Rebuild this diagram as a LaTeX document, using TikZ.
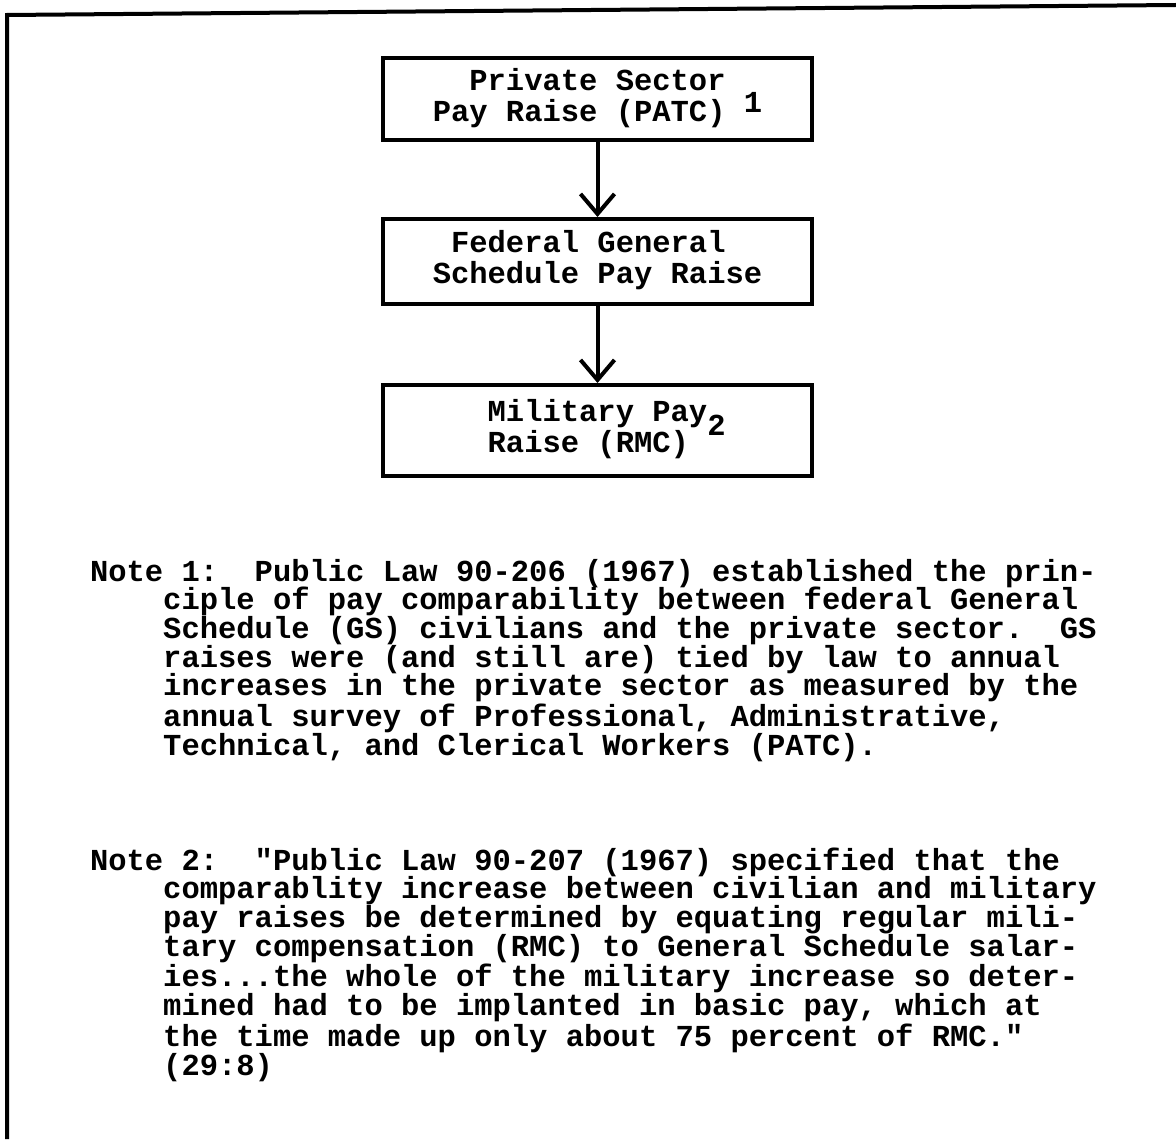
\documentclass[tikz,border=0pt]{standalone}
\usepackage{fontspec}
\setmonofont{Liberation Mono}
\usetikzlibrary{positioning}
\usetikzlibrary{arrows.meta}
\newcommand\typedspaces{\spaceskip=0pt\xspaceskip=0pt\relax}

\begin{document}
\begin{tikzpicture}
[line width=2pt,%
  every node/.style={font=\ttfamily\bfseries\fontsize{15.25pt}{14.35pt}\selectfont},%
  paybox/.style={draw,rectangle,minimum width=214.5pt,inner sep=0pt,align=left},%
  payarrow/.style={-{Straight Barb[length=10pt,width=17pt]}},%
  notehead/.style={anchor=base west,inner sep=0pt},%
  notebody/.style={anchor=base west,inner sep=0pt,text width=500pt,align=left}]
\useasboundingbox (0,0) rectangle (588pt,-569.5pt);
\coordinate (frametopleft) at (3.5pt,-7.5pt);
\coordinate (frametopright) at (588pt,-2.5pt);
\coordinate (framebottomleft) at (3.5pt,-569.5pt);
\draw (framebottomleft) -- (frametopleft) -- (frametopright);

\node[paybox,minimum height=41pt] (privatebox) at (298.75pt,-49.5pt)
  {\begin{tabular}{@{}r@{}}Private Sector\\Pay Raise (PATC)\end{tabular}~\raisebox{-.2em}{1}};
\node[paybox,minimum height=42.5pt,below=37.5pt of privatebox] (generalbox)
  {\begin{tabular}{@{}l@{}}\phantom{x}Federal General\\Schedule Pay Raise\end{tabular}};
\node[paybox,minimum height=45.5pt,below=38.5pt of generalbox] (militarybox)
  {\phantom{x}\begin{tabular}{@{}l@{}}Military Pay\smash{\raisebox{-.45em}{2}}\\Raise (RMC)\end{tabular}};
\draw[payarrow] (privatebox) -- (generalbox);
\draw[payarrow] (generalbox) -- (militarybox);

\node[notehead] (note1head) at (44pt,-290.5pt)
  {Note 1:~~Public Law 90-206 (1967) established the prin-};
\node[notebody] (note1body) at ([shift={(36.6pt,-14.35pt)}]note1head.base west)
  {\typedspaces
   ciple of pay comparability between federal General\\
   Schedule (GS) civilians and the private sector.~~GS\\
   raises were (and still are) tied by law to annual\\
   increases in the private sector as measured by the\\
   annual survey of Professional, Administrative,\\
   Technical, and Clerical Workers (PATC).};

\node[notehead] (note2head) at (44pt,-435pt)
  {Note 2:~~"Public Law 90-207 (1967) specified that the};
\node[notebody] (note2body) at ([shift={(36.6pt,-14.35pt)}]note2head.base west)
  {\typedspaces
   comparablity increase between civilian and military\\
   pay raises be determined by equating regular mili-\\
   tary compensation (RMC) to General Schedule salar-\\
   ies...the whole of the military increase so deter-\\
   mined had to be implanted in basic pay, which at\\
   the time made up only about 75 percent of RMC."\\
   (29:8)};
\end{tikzpicture}
\end{document}
